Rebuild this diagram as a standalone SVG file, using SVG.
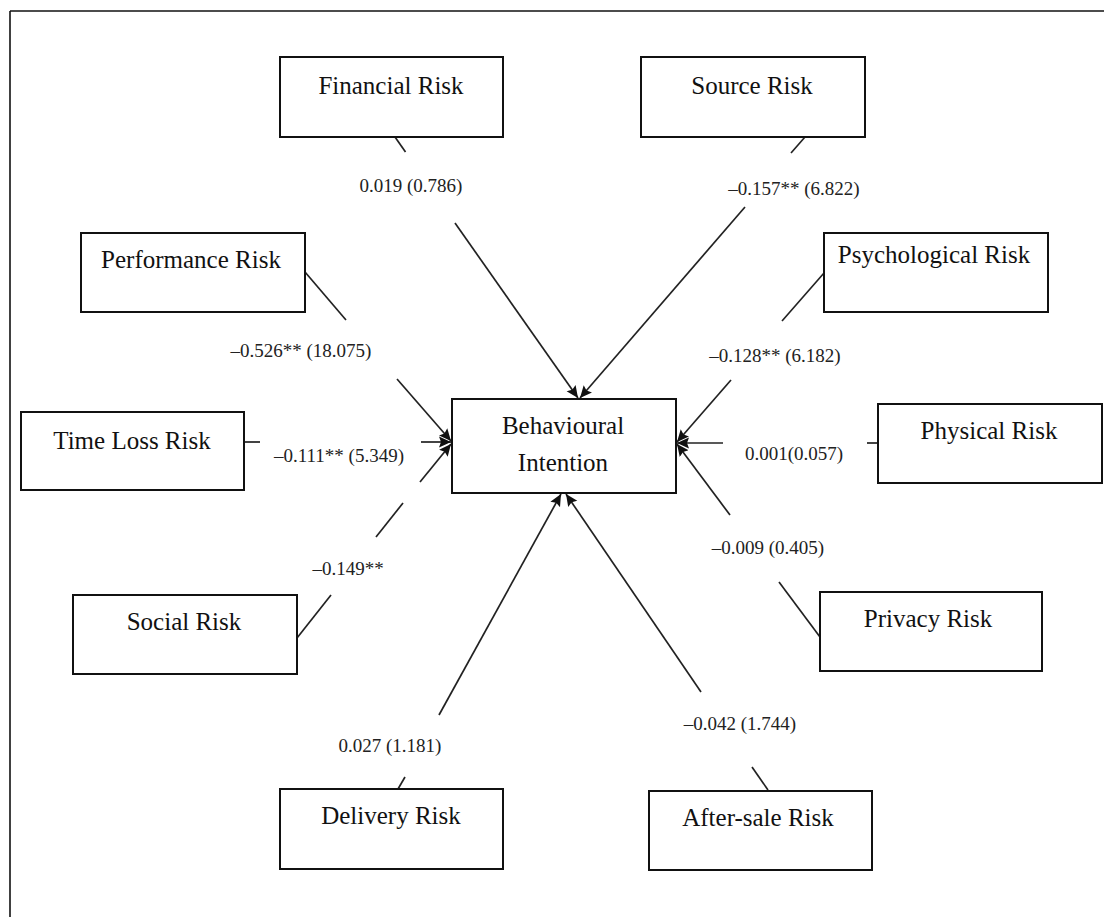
<svg xmlns="http://www.w3.org/2000/svg" width="1104" height="917" viewBox="0 0 1104 917">
<style>
.box{fill:#fff;stroke:#111;stroke-width:2}
.nt{font-family:"Liberation Serif","Times New Roman",serif;font-size:25px;fill:#111;text-anchor:middle}
.lb{font-family:"Liberation Serif","Times New Roman",serif;font-size:19px;fill:#222;text-anchor:middle}
.ln{stroke:#222;stroke-width:1.7;fill:none}
.ar{marker-end:url(#ah)}
</style>
<defs>
<marker id="ah" markerUnits="userSpaceOnUse" markerWidth="14" markerHeight="12" refX="12" refY="6" orient="auto">
<path d="M0,0.5 L12,6 L0,11.5 L2,6 z" fill="#111"/>
</marker>
</defs>
<rect width="1104" height="917" fill="#fff"/>
<g id="frame">
<line x1="10" y1="11" x2="1104" y2="11" stroke="#111" stroke-width="1.6"/>
<line x1="10" y1="11" x2="10" y2="917" stroke="#111" stroke-width="1.6"/>
</g>
<g id="connectors">
<line class="ln" x1="395" y1="137" x2="405.5" y2="152"/>
<line class="ln ar" x1="455" y1="223" x2="578" y2="398"/>
<line class="ln" x1="805" y1="137" x2="791" y2="153"/>
<line class="ln ar" x1="745" y1="207" x2="580" y2="398"/>
<line class="ln" x1="305" y1="272" x2="346" y2="320"/>
<line class="ln ar" x1="397" y1="379" x2="451" y2="441"/>
<line class="ln" x1="244" y1="442" x2="260" y2="442"/>
<line class="ln ar" x1="421" y1="442" x2="451" y2="442"/>
<line class="ln" x1="297" y1="638" x2="331" y2="595"/>
<line class="ln" x1="376" y1="537" x2="403" y2="503"/>
<line class="ln ar" x1="420" y1="482" x2="451" y2="444"/>
<line class="ln" x1="824" y1="273" x2="782" y2="321"/>
<line class="ln ar" x1="731" y1="380" x2="677" y2="442"/>
<line class="ln" x1="878" y1="443" x2="867" y2="443"/>
<line class="ln ar" x1="723" y1="443" x2="677" y2="443"/>
<line class="ln" x1="820" y1="637" x2="779" y2="582"/>
<line class="ln ar" x1="730" y1="515" x2="677" y2="444"/>
<line class="ln" x1="398" y1="789" x2="405" y2="777"/>
<line class="ln ar" x1="439" y1="715" x2="561" y2="494"/>
<line class="ln" x1="768" y1="790" x2="752" y2="767"/>
<line class="ln ar" x1="701" y1="692" x2="566" y2="494"/>
</g>
<g id="labels">
<text class="lb" x="411" y="192">0.019 (0.786)</text>
<text class="lb" x="794" y="195">–0.157** (6.822)</text>
<text class="lb" x="301" y="357">–0.526** (18.075)</text>
<text class="lb" x="775" y="362">–0.128** (6.182)</text>
<text class="lb" x="339" y="462">–0.111** (5.349)</text>
<text class="lb" x="794" y="460">0.001(0.057)</text>
<text class="lb" x="348" y="575">–0.149**</text>
<text class="lb" x="768" y="554">–0.009 (0.405)</text>
<text class="lb" x="390" y="752">0.027 (1.181)</text>
<text class="lb" x="740" y="730">–0.042 (1.744)</text>
</g>
<g id="financial"><rect class="box" x="280" y="57" width="223" height="80"/><text class="nt" x="391" y="94">Financial Risk</text></g>
<g id="source"><rect class="box" x="641" y="57" width="224" height="80"/><text class="nt" x="752" y="94">Source Risk</text></g>
<g id="performance"><rect class="box" x="81" y="233" width="224" height="79"/><text class="nt" x="191" y="268">Performance Risk</text></g>
<g id="psychological"><rect class="box" x="824" y="233" width="224" height="79"/><text class="nt" x="934" y="263">Psychological Risk</text></g>
<g id="timeloss"><rect class="box" x="21" y="412" width="223" height="78"/><text class="nt" x="132" y="449">Time Loss Risk</text></g>
<g id="physical"><rect class="box" x="878" y="404" width="224" height="79"/><text class="nt" x="989" y="439">Physical Risk</text></g>
<g id="social"><rect class="box" x="73" y="595" width="224" height="79"/><text class="nt" x="184" y="630">Social Risk</text></g>
<g id="privacy"><rect class="box" x="820" y="592" width="222" height="79"/><text class="nt" x="928" y="627">Privacy Risk</text></g>
<g id="delivery"><rect class="box" x="280" y="789" width="223" height="80"/><text class="nt" x="391" y="824">Delivery Risk</text></g>
<g id="aftersale"><rect class="box" x="649" y="791" width="223" height="79"/><text class="nt" x="758" y="826">After-sale Risk</text></g>
<g id="behavioural"><rect class="box" x="452" y="399" width="224" height="94"/><text class="nt" x="563" y="434">Behavioural</text><text class="nt" x="563" y="471">Intention</text></g>
</svg>
